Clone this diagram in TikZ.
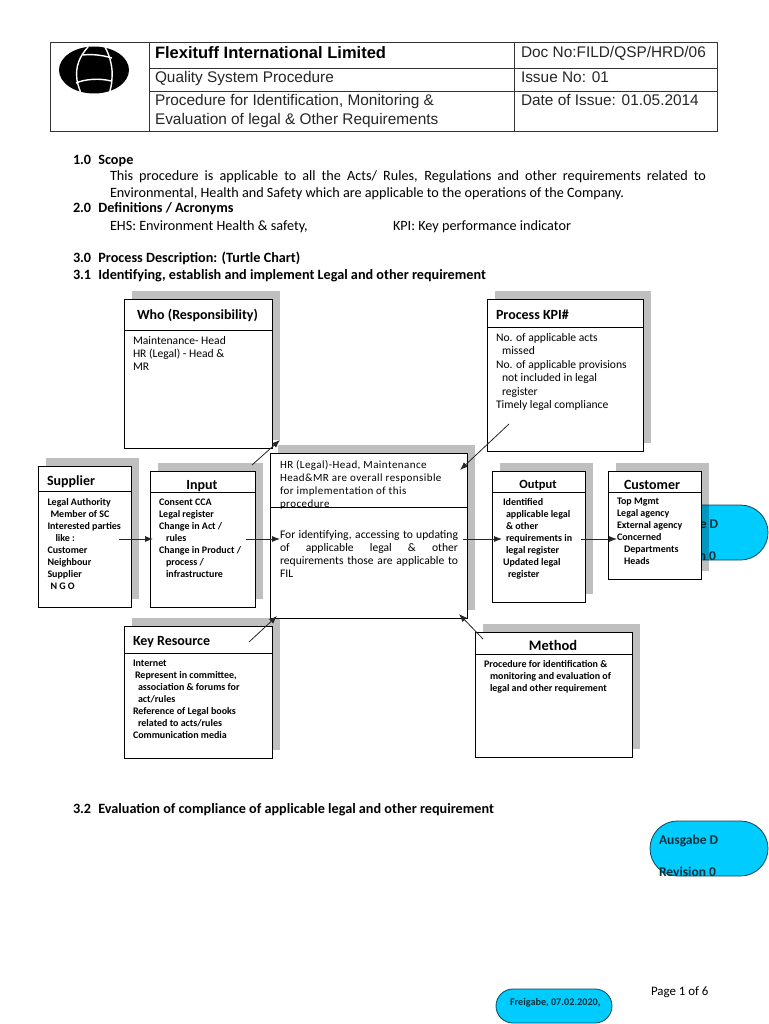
\documentclass[tikz,border=0pt]{standalone}
\usepackage{fontspec}
\setmainfont{Carlito}
\newfontfamily\arialf{Liberation Sans}
\newfontfamily\centref[LetterSpace=4]{Carlito}
\usetikzlibrary{arrows.meta,shapes.misc}
\definecolor{pillblue}{HTML}{00CCFF}
\definecolor{pilledge}{HTML}{0B4658}
\definecolor{inkgray}{HTML}{262626}
\tikzset{
  x=1pt,y=-1pt,
  boxshape/.style={draw=black,line width=0.9pt,fill=white,inner sep=0,outer sep=0,anchor=north west},
  shadowshape/.style={fill=black,fill opacity=0.25,draw=none,inner sep=0,outer sep=0,anchor=north west},
  pill/.style={rounded rectangle,draw=pilledge,line width=0.8pt,fill=pillblue,inner sep=0,outer sep=0,anchor=center},
  lineT/.style={anchor=base west,inner sep=0,outer sep=0,font=\fontsize{14.2}{16}\selectfont,text=black},
  lineB/.style={lineT,font=\fontsize{14.2}{16}\selectfont\bfseries},
  headT/.style={anchor=base west,inner sep=0,outer sep=0,font=\arialf\fontsize{15.4}{19}\selectfont,text=inkgray},
  title/.style={anchor=base west,inner sep=0,outer sep=0,font=\fontsize{14}{15}\selectfont\bfseries},
  titleC/.style={title,anchor=base},
  smallblk/.style={anchor=north west,align=left,inner sep=0,outer sep=0,font=\fontsize{10}{12}\selectfont\bfseries},
  midblk/.style={anchor=north west,align=left,inner sep=0,outer sep=0,font=\fontsize{11.6}{13.4}\selectfont},
  centreA/.style={anchor=north west,align=left,inner sep=0,outer sep=0,font=\centref\fontsize{11}{13}\selectfont},
  centreB/.style={anchor=north west,align=left,inner sep=0,outer sep=0,font=\fontsize{11.6}{13}\selectfont},
  pilltxt/.style={anchor=base west,inner sep=0,outer sep=0,font=\fontsize{13.5}{15}\selectfont\bfseries,text=pilledge!70!black},
  conn/.style={draw=black!85,line width=0.8pt,-{Latex[length=8pt,width=6pt]}},
  divider/.style={draw=black,line width=0.9pt},
}
% name, x1, y1, x2, y2
\newcommand{\shadowat}[5]{%
  \pgfmathsetlengthmacro{\bw}{#4-#2}\pgfmathsetlengthmacro{\bh}{#5-#3}%
  \node[shadowshape,minimum width=\bw,minimum height=\bh] (#1s) at (#2+8,#3-8) {};%
}
\newcommand{\boxat}[6]{%
  \pgfmathsetlengthmacro{\bw}{#4-#2}\pgfmathsetlengthmacro{\bh}{#5-#3}%
  \node[boxshape,minimum width=\bw,minimum height=\bh] (#1) at (#2,#3) {};%
  \draw[divider] (#1.west |- 0,#6) -- (#1.east |- 0,#6);%
}
\begin{document}
\begin{tikzpicture}
\useasboundingbox (0,0) rectangle (768,1024);
\fill[white] (0,0) rectangle (768,1024);

% header table
\node[draw=black!80,line width=1pt,inner sep=0,outer sep=0,anchor=north west,minimum width=667pt,minimum height=89pt] (hdr) at (50,43) {};
\draw[black!80,line width=1pt] (149,43) -- (149,132);
\draw[black!80,line width=1pt] (514,43) -- (514,132);
\draw[black!80,line width=1pt] (149,69) -- (717,69);
\draw[black!80,line width=1pt] (149,92) -- (717,92);
% logo
\fill[black] (94,70) ellipse [x radius=35,y radius=23.5];
\draw[white,line width=1.4pt] (88,47) .. controls (80,56) and (75,66) .. (77,80) .. controls (78,86) and (80,90) .. (81,94);
\draw[white,line width=1.4pt] (105,47) .. controls (110,56) and (113,68) .. (112,78) .. controls (112,85) and (110,90) .. (109,95);
\draw[white,line width=1.4pt] (83,55) .. controls (92,54) and (102,55) .. (112,58);
\draw[white,line width=1.4pt] (76,83) .. controls (85,79) and (100,78) .. (111,81);
\node[headT,font=\arialf\bfseries\fontsize{16.5}{19}\selectfont,text=black] (h1) at (155,59) {Flexituff International Limited};
\node[headT] (h2) at (155,83) {Quality System Procedure};
\node[headT] (h3) at (155,106) {Procedure for Identification, Monitoring \&};
\node[headT] (h4) at (155,125) {Evaluation of legal \& Other Requirements};
\node[headT] (h5) at (521,58) {Doc No:FILD/QSP/HRD/06};
\node[headT] (h6) at (521,83) {Issue No: 01};
\node[headT] (h7) at (521,106) {Date of Issue: 01.05.2014};

% body text
\node[lineB] (t1) at (73,165) {1.0\hspace{4pt} Scope};
\node[lineT] (t2) at (110,181) {\makebox[596pt][s]{This procedure is applicable to all the Acts/ Rules, Regulations and other requirements related to}};
\node[lineT] (t3) at (110,198) {Environmental, Health and Safety which are applicable to the operations of the Company.};
\node[lineB] (t4) at (73,213) {2.0\hspace{4pt} Definitions / Acronyms};
\node[lineT] (t5) at (110,230) {EHS: Environment Health \& safety,};
\node[lineT] (t6) at (393,230) {KPI: Key performance indicator};
\node[lineB] (t7) at (73,262) {3.0\hspace{4pt} Process Description: (Turtle Chart)};
\node[lineB] (t8) at (73,279) {3.1\hspace{4pt} Identifying, establish and implement Legal and other requirement};
\node[lineB] (t9) at (73,813) {3.2\hspace{4pt} Evaluation of compliance of applicable legal and other requirement};

% pill behind the customer box
\node[pill,minimum width=118pt,minimum height=55pt] (pillA) at (709,532.5) {};
\node[pilltxt] (pA1) at (659,528) {Ausgabe D};
\node[pilltxt] (pA2) at (659,560) {Revision 0};

% shadows
\shadowat{who}{124}{299}{272}{448}
\shadowat{kpi}{487}{299}{643}{451}
\shadowat{sup}{38}{466}{131}{607}
\shadowat{inp}{150}{471}{255}{607}
\shadowat{cen}{270}{453}{467}{618}
\shadowat{out}{492}{471}{585}{602}
\shadowat{cus}{608}{471}{701}{579}
\shadowat{key}{124}{626}{272}{758}
\shadowat{met}{475}{632}{632}{757}

% boxes
\boxat{who}{124}{299}{272}{448}{330}
\boxat{kpi}{487}{299}{643}{451}{327}
\boxat{sup}{38}{466}{131}{607}{491}
\boxat{inp}{150}{471}{255}{607}{492}
\boxat{cen}{270}{453}{467}{618}{507}
\boxat{out}{492}{471}{585}{602}{492}
\boxat{cus}{608}{471}{701}{579}{492}
\boxat{key}{124}{626}{272}{758}{653}
\boxat{met}{475}{632}{632}{757}{654}

% titles
\node[title] (whoT) at (137,319) {Who (Responsibility)};
\node[title] (kpiT) at (496,319) {Process KPI\#};
\node[title] (supT) at (47,485) {Supplier};
\node[titleC] (inpT) at (202,489) {Input};
\node[titleC,font=\fontsize{12.5}{15}\selectfont\bfseries] (outT) at (538,488) {Output};
\node[titleC] (cusT) at (652,489) {Customer};
\node[title] (keyT) at (133,645) {Key Resource};
\node[titleC,font=\fontsize{14.5}{15}\selectfont\bfseries] (metT) at (553,650) {Method};

% box texts
\node[midblk] (whoB) at (133,336) {Maintenance- Head\\HR (Legal) - Head \&\\MR};
\node[midblk] (kpiB) at (496,333.5) {No. of applicable acts\\\hspace{6pt}missed\\No. of applicable provisions\\\hspace{6pt}not included in legal\\\hspace{6pt}register\\Timely legal compliance};
\node[smallblk] (supB) at (47.5,498) {Legal Authority\\\hspace{3pt}Member of SC\\Interested parties\\\hspace{8pt}like :\\Customer\\Neighbour\\Supplier\\\hspace{3pt}N G O};
\node[smallblk] (inpB) at (159,498.5) {Consent CCA\\Legal register\\Change in Act /\\\hspace{7pt}rules\\Change in Product /\\\hspace{7pt}process /\\\hspace{7pt}infrastructure};
\node[smallblk] (outB) at (503,498) {Identified\\\hspace{3pt}applicable legal\\\hspace{3pt}\& other\\\hspace{3pt}requirements in\\\hspace{3pt}legal register\\Updated legal\\\hspace{5pt}register};
\node[smallblk] (cusB) at (617,498) {Top Mgmt\\Legal agency\\External agency\\Concerned\\\hspace{7pt}Departments\\\hspace{7pt}Heads};
\node[smallblk] (keyB) at (133,660) {Internet\\\hspace{2pt}Represent in committee,\\\hspace{5pt}association \& forums for\\\hspace{5pt}act/rules\\Reference of Legal books\\\hspace{5pt}related to acts/rules\\Communication media};
\node[smallblk] (metB) at (484,660) {Procedure for identification \&\\\hspace{6pt}monitoring and evaluation of\\\hspace{6pt}legal and other requirement};
\node[centreA] (cenA) at (280,460) {HR (Legal)-Head, Maintenance\\Head\&MR are overall responsible\\for implementation of this\\procedure};
\node[centreB] (cenB) at (280,530) {\makebox[178pt][s]{For identifying, accessing to updating}\\\makebox[178pt][s]{of applicable legal \& other}\\\makebox[178pt][s]{requirements those are applicable to}\\FIL};

% connector free ends
\coordinate (c1a) at (119,539); \coordinate (c1b) at (153,539);
\coordinate (c2a) at (246,539); \coordinate (c2b) at (280,539);
\coordinate (c3a) at (463,539); \coordinate (c3b) at (502,539);
\coordinate (c4a) at (581,539); \coordinate (c4b) at (617,539);
\coordinate (c5a) at (252,465); \coordinate (c5b) at (280,440);
\coordinate (c6a) at (509,424); \coordinate (c6b) at (460,470);
\coordinate (c7a) at (249,642); \coordinate (c7b) at (277,616);
\coordinate (c8a) at (483,639); \coordinate (c8b) at (459,614);
\draw[conn] (c1a) -- (c1b);
\draw[conn] (c2a) -- (c2b);
\draw[conn] (c3a) -- (c3b);
\draw[conn] (c4a) -- (c4b);
\draw[conn] (c5a) -- (c5b);
\draw[conn] (c6a) -- (c6b);
\draw[conn] (c7a) -- (c7b);
\draw[conn] (c8a) -- (c8b);

% lower pills and page number
\node[pill,minimum width=118pt,minimum height=55pt] (pillB) at (709,848.5) {};
\node[pilltxt] (pB1) at (659,844) {Ausgabe D};
\node[pilltxt] (pB2) at (659,876) {Revision 0};
\node[pill,minimum width=116pt,minimum height=34pt] (pillC) at (554,1006) {};
\node[anchor=base west,inner sep=0,outer sep=0,font=\fontsize{10.2}{12}\selectfont\bfseries,text=pilledge!70!black] (pC) at (510,1005) {Freigabe, 07.02.2020,};
\node[lineT,font=\fontsize{12.9}{15}\selectfont] (pg) at (651,995) {Page 1 of 6};
\end{tikzpicture}
\end{document}
